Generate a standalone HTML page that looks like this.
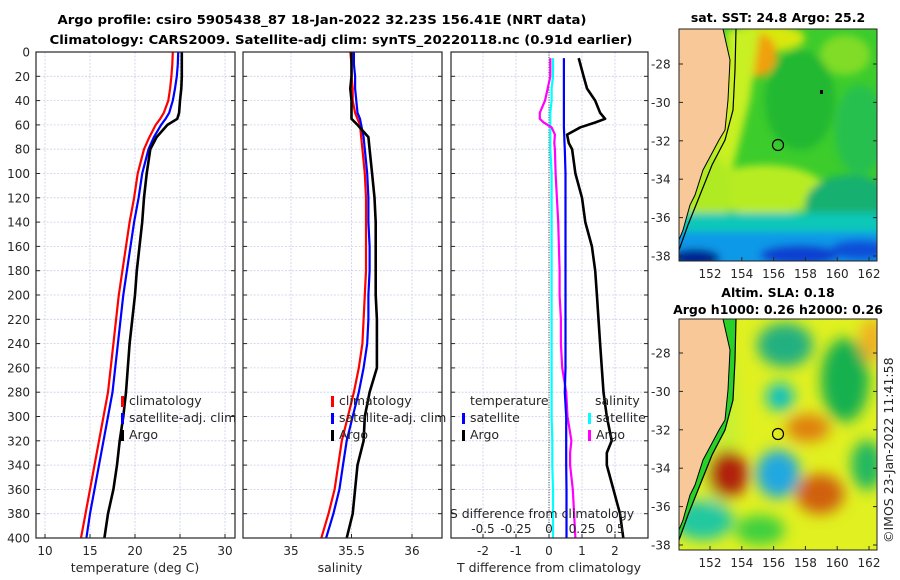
<!DOCTYPE html>
<html><head><meta charset="utf-8"><style>
body{margin:0;background:#fff;}
svg{display:block;font-family:"DejaVu Sans","Liberation Sans",sans-serif;}
</style></head><body>
<svg id="c" width="900" height="580" xmlns="http://www.w3.org/2000/svg">
<defs>
<filter id="bl" x="-20%" y="-20%" width="140%" height="140%"><feGaussianBlur stdDeviation="7"/></filter>
<filter id="bs" x="-20%" y="-20%" width="140%" height="140%"><feGaussianBlur stdDeviation="4"/></filter>
<clipPath id="m1"><rect x="679" y="29" width="198" height="232"/></clipPath>
<clipPath id="m2"><rect x="679" y="319" width="198" height="231"/></clipPath>
</defs>
<text x="322" y="24" text-anchor="middle" font-size="12.5" font-weight="bold" fill="#000" textLength="529" lengthAdjust="spacingAndGlyphs">Argo profile: csiro 5905438_87 18-Jan-2022 32.23S 156.41E (NRT data)</text>
<text x="341" y="44" text-anchor="middle" font-size="12.5" font-weight="bold" fill="#000" textLength="583" lengthAdjust="spacingAndGlyphs">Climatology: CARS2009. Satellite-adj clim: synTS_20220118.nc (0.91d earlier)</text>

<!-- top map -->
<g clip-path="url(#m1)">
<rect x="679" y="29" width="198" height="232" fill="#3ccc2c"/>
<g filter="url(#bs)">
<ellipse cx="765" cy="38" rx="40" ry="14" fill="#d8e810"/>
<ellipse cx="757" cy="55" rx="20" ry="22" fill="#f0a010"/>
<polygon points="728,29 760,29 750,100 735,160 715,215 690,240 685,200 715,140" fill="#c8f020"/>
<ellipse cx="765" cy="190" rx="60" ry="25" fill="#b8ec20"/>
<ellipse cx="710" cy="190" rx="22" ry="35" fill="#b0ea22"/>
<ellipse cx="845" cy="55" rx="25" ry="20" fill="#80dc28"/>
<ellipse cx="800" cy="100" rx="35" ry="50" fill="#20b830"/>
<ellipse cx="850" cy="205" rx="45" ry="30" fill="#18b070"/>
<ellipse cx="860" cy="130" rx="25" ry="45" fill="#28c050"/>
<rect x="670" y="213" width="220" height="30" fill="#10c8b8"/>
<rect x="670" y="232" width="220" height="40" fill="#1098e8"/>
<ellipse cx="800" cy="255" rx="40" ry="10" fill="#0a40d0"/>
<ellipse cx="695" cy="258" rx="25" ry="9" fill="#002090"/>
<ellipse cx="860" cy="250" rx="30" ry="10" fill="#1050d8"/>
</g>
<polygon points="679,29 723,29 730,60 728,100 725,130 719,140 711,155 703,170 695,195 690,205 683,230 679,240" fill="#f8c898"/>
<polyline points="736,29 735,70 733,110 725,140 712,165 700,195 688,225 679,250" fill="none" stroke="#000" stroke-width="1.2"/>
<polyline points="723,29 730,60 728,100 725,130 719,140 711,155 703,170 695,195 690,205 683,230 679,240" fill="none" stroke="#000" stroke-width="1"/>
<rect x="820" y="90" width="3" height="4" fill="#000"/>
<circle cx="778" cy="145" r="5.5" fill="none" stroke="#000" stroke-width="1.2"/>
</g>
<rect x="679" y="29" width="198" height="232" fill="none" stroke="#222" stroke-width="1"/>

<!-- bottom map -->
<g clip-path="url(#m2)">
<rect x="679" y="319" width="198" height="231" fill="#e0f020"/>
<g filter="url(#bl)">
<ellipse cx="718" cy="420" rx="22" ry="90" fill="#c8f030"/>
<ellipse cx="785" cy="345" rx="28" ry="22" fill="#20b080"/>
<ellipse cx="845" cy="380" rx="24" ry="42" fill="#18b050"/>
<ellipse cx="780" cy="397" rx="14" ry="14" fill="#10c0c0"/>
<ellipse cx="728" cy="474" rx="20" ry="24" fill="#b02010"/>
<ellipse cx="778" cy="474" rx="22" ry="24" fill="#20a8e0"/>
<ellipse cx="808" cy="428" rx="22" ry="14" fill="#e08010"/>
<ellipse cx="820" cy="494" rx="24" ry="20" fill="#d06010"/>
<ellipse cx="703" cy="520" rx="30" ry="20" fill="#20c8a0"/>
<ellipse cx="867" cy="465" rx="16" ry="25" fill="#20b860"/>
<ellipse cx="872" cy="340" rx="12" ry="22" fill="#f0b020"/>
<ellipse cx="760" cy="530" rx="25" ry="15" fill="#40d040"/>
</g>
<polygon points="679,319 723,319 730,350 728,390 725,420 719,430 711,445 703,460 695,485 690,495 683,520 679,530" fill="#f8c898"/>
<polygon points="723,319 736,319 735,360 733,400 725,430 712,455 700,485 688,515 679,540 679,530 683,520 690,495 695,485 703,460 711,445 719,430 725,420 728,390 730,350" fill="#28d028"/>
<polyline points="736,319 735,360 733,400 725,430 712,455 700,485 688,515 679,540" fill="none" stroke="#000" stroke-width="1.2"/>
<polyline points="723,319 730,350 728,390 725,420 719,430 711,445 703,460 695,485 690,495 683,520 679,530" fill="none" stroke="#000" stroke-width="1"/>
<circle cx="778" cy="434" r="5.5" fill="none" stroke="#000" stroke-width="1.2"/>
</g>
<rect x="679" y="319" width="198" height="231" fill="none" stroke="#222" stroke-width="1"/>

<text x="778" y="22" text-anchor="middle" font-size="12.5" font-weight="bold">sat. SST: 24.8 Argo: 25.2</text>
<text x="778" y="297" text-anchor="middle" font-size="12.5" font-weight="bold">Altim. SLA: 0.18</text>
<text x="778" y="314" text-anchor="middle" font-size="12.5" font-weight="bold">Argo h1000: 0.26 h2000: 0.26</text>
<text transform="translate(893,543) rotate(-90)" font-size="12.5" fill="#262626">©IMOS 23-Jan-2022 11:41:58</text>
<g id="plots"></g>
</svg>
<script>
// ===== data =====
const depths = [0,10,20,30,40,50,55,60,70,80,100,120,140,160,180,200,220,240,260,280,300,320,340,360,380,400];
const tempClim = [24.2,24.15,24.05,23.9,23.7,23.2,22.8,22.3,21.6,21.0,20.3,19.9,19.4,19.0,18.6,18.2,17.9,17.6,17.3,17.0,16.5,16.0,15.5,15.0,14.5,14.0];
const tempSat = [24.8,24.75,24.65,24.45,24.2,23.8,23.4,22.9,22.1,21.5,20.8,20.4,19.9,19.5,19.1,18.7,18.4,18.1,17.8,17.5,17.0,16.5,16.0,15.5,15.0,14.6];
const tempArgo = [25.2,25.2,25.2,25.15,25.0,24.9,24.7,23.6,22.4,21.7,21.3,21.0,20.8,20.5,20.2,20.0,19.7,19.4,19.2,19.0,18.7,18.3,18.0,17.6,17.0,16.6];
const salClim = [35.49,35.50,35.50,35.51,35.51,35.53,35.55,35.57,35.58,35.59,35.61,35.62,35.62,35.62,35.62,35.61,35.60,35.59,35.56,35.52,35.47,35.42,35.39,35.36,35.31,35.25];
const salSat = [35.52,35.52,35.53,35.53,35.54,35.55,35.57,35.58,35.60,35.61,35.63,35.64,35.64,35.65,35.65,35.64,35.64,35.63,35.60,35.56,35.51,35.46,35.43,35.40,35.35,35.29];
const salArgo = [35.50,35.50,35.50,35.49,35.50,35.50,35.50,35.55,35.64,35.65,35.67,35.69,35.70,35.70,35.70,35.70,35.71,35.71,35.71,35.65,35.61,35.60,35.55,35.53,35.51,35.46];
const diffDepths = [5,20,30,40,50,55,58,62,68,75,80,100,120,140,160,180,200,220,240,260,280,300,320,330,340,360,380,400];
const dTArgo = [0.9,1.05,1.15,1.4,1.55,1.7,1.4,0.95,0.55,0.6,0.7,0.8,1.0,1.1,1.3,1.4,1.45,1.5,1.55,1.6,1.65,1.75,1.9,1.75,1.75,1.95,2.15,2.25];
const dTSat = [0.45,0.45,0.45,0.45,0.45,0.45,0.45,0.45,0.46,0.47,0.48,0.5,0.5,0.5,0.5,0.5,0.5,0.5,0.5,0.5,0.48,0.52,0.52,0.52,0.52,0.53,0.53,0.53];
const dSSat = [0.03,0.03,0.02,0.02,0.01,0.01,0.01,0.01,0.01,0.01,0.01,0.02,0.02,0.02,0.02,0.02,0.02,0.02,0.02,0.02,0.02,0.02,0.025,0.025,0.025,0.03,0.03,0.03];
const dSArgo = [0.01,0.01,-0.01,-0.03,-0.07,-0.07,-0.04,0.02,0.045,0.04,0.045,0.05,0.06,0.07,0.075,0.08,0.08,0.09,0.09,0.1,0.13,0.14,0.17,0.16,0.16,0.18,0.19,0.2];
const depthTicks = [0,20,40,60,80,100,120,140,160,180,200,220,240,260,280,300,320,340,360,380,400];
const tTicks = [10,15,20,25,30];
const sTicks = [35,35.5,36];
const dTTicks = [-2,-1,0,1,2];
const dSTickLabels = ["-0.5","-0.25","0","0.25","0.5"];
const dSTicks = [-0.5,-0.25,0,0.25,0.5];

// ===== scales =====
const yTop=52, yBot=538;
const yS = d => yTop + d*(yBot-yTop)/400;
const P1={l:36,r:235}, P2={l:243,r:442}, P3={l:451,r:648};
const xT = t => 45 + (t-10)*9;
const xS = s => 291 + (s-35)*121;
const xDT = v => 549 + v*33;
const xDS = v => 549 + v*132;

const NS="http://www.w3.org/2000/svg";
const root=document.getElementById('plots');
function mk(tag,attrs,parent){const e=document.createElementNS(NS,tag);for(const k in attrs)e.setAttribute(k,attrs[k]);(parent||root).appendChild(e);return e;}
function txt(x,y,s,size,anchor,parent){const e=mk('text',{x:x,y:y,'font-size':size,'text-anchor':anchor||'middle',fill:'#262626'},parent);e.textContent=s;return e;}

function panel(P,name){
  const g=mk('g',{});
  
  
  mk('rect',{x:P.l,y:yTop,width:P.r-P.l,height:yBot-yTop,fill:'#fff'},g);
  depthTicks.forEach(d=>{
    mk('line',{x1:P.l,x2:P.r,y1:yS(d),y2:yS(d),stroke:'#c9cfe8','stroke-width':0.8,'stroke-dasharray':'2,1.5'},g);
    mk('line',{x1:P.l,x2:P.l+4,y1:yS(d),y2:yS(d),stroke:'#262626'},g);
    mk('line',{x1:P.r-4,x2:P.r,y1:yS(d),y2:yS(d),stroke:'#262626'},g);
  });
  return g;
}
function vgrid(g,ticks,fx){ticks.forEach(t=>{mk('line',{x1:fx(t),x2:fx(t),y1:yTop,y2:yBot,stroke:'#c9cfe8','stroke-width':0.8,'stroke-dasharray':'2,1.5'},g);});}
function line(g,ds,vs,fx,color,name,w){
  const pts=ds.map((d,i)=>fx(vs[i]).toFixed(1)+','+yS(d).toFixed(1)).join(' ');
  const p=mk('polyline',{points:pts,fill:'none',stroke:color,'stroke-width':w||2.2,'stroke-linejoin':'round'},g);
  
  
  return p;
}
function box(g,P){mk('rect',{x:P.l,y:yTop,width:P.r-P.l,height:yBot-yTop,fill:'none',stroke:'#262626','stroke-width':1.2},g);}
function legend(g,x,y,color,label){
  mk('rect',{x:x,y:y-9,width:3,height:11,fill:color},g);
  const t=txt(x+8,y,label,12.5,'start',g);
  
  
}

// panel 1
const g1=panel(P1,'temperature-panel');
vgrid(g1,tTicks,xT);
line(g1,depths,tempClim,xT,'#ff0000','temp-climatology-line');
line(g1,depths,tempSat,xT,'#0000ff','temp-satellite-line');
line(g1,depths,tempArgo,xT,'#000','temp-argo-line',2.6);
box(g1,P1);
depthTicks.forEach(d=>{txt(30,yS(d)+4.5,String(d),12,'end',g1);});
tTicks.forEach(t=>{mk('line',{x1:xT(t),x2:xT(t),y1:yBot-4,y2:yBot,stroke:'#262626'},g1);txt(xT(t),555,String(t),12,'middle',g1);});
txt(135,572,'temperature (deg C)',12.5,'middle',g1);
legend(g1,121,405,'#ff0000','climatology');
legend(g1,121,422,'#0000ff','satellite-adj. clim');
legend(g1,121,439,'#000','Argo');

// panel 2
const g2=panel(P2,'salinity-panel');
vgrid(g2,sTicks,xS);
line(g2,depths,salClim,xS,'#ff0000','sal-climatology-line');
line(g2,depths,salSat,xS,'#0000ff','sal-satellite-line');
line(g2,depths,salArgo,xS,'#000','sal-argo-line',2.6);
box(g2,P2);
sTicks.forEach(s=>{mk('line',{x1:xS(s),x2:xS(s),y1:yBot-4,y2:yBot,stroke:'#262626'},g2);txt(xS(s),555,String(s),12,'middle',g2);});
txt(340,572,'salinity',12.5,'middle',g2);
legend(g2,331,405,'#ff0000','climatology');
legend(g2,331,422,'#0000ff','satellite-adj. clim');
legend(g2,331,439,'#000','Argo');

// panel 3
const g3=panel(P3,'difference-panel');
vgrid(g3,dTTicks,xDT);
mk('line',{x1:xDT(0),x2:xDT(0),y1:yTop,y2:yBot,stroke:'#444','stroke-width':1,'stroke-dasharray':'1,1.5'},g3);
line(g3,diffDepths,dSSat,xDS,'#00ffff','sal-diff-satellite-line');
line(g3,diffDepths,dSArgo,xDS,'#ff00ff','sal-diff-argo-line');
line(g3,diffDepths,dTSat,xDT,'#0000ff','temp-diff-satellite-line');
line(g3,diffDepths,dTArgo,xDT,'#000','temp-diff-argo-line',2.6);
box(g3,P3);
dTTicks.forEach(t=>{mk('line',{x1:xDT(t),x2:xDT(t),y1:yBot-4,y2:yBot,stroke:'#262626'},g3);txt(xDT(t),555,String(t),12,'middle',g3);});
txt(549,572,'T difference from climatology',12.5,'middle',g3);
txt(542,518,'S difference from climatology',12.5,'middle',g3);
dSTicks.forEach((s,i)=>{txt(xDS(s),533,dSTickLabels[i],12,'middle',g3);});
txt(470,405,'temperature',12.5,'start',g3);
legend(g3,462,422,'#0000ff','satellite');
legend(g3,462,439,'#000','Argo');
txt(595,405,'salinity',12.5,'start',g3);
legend(g3,588,422,'#00ffff','satellite');
legend(g3,588,439,'#ff00ff','Argo');

// map axes
const svg=document.getElementById('c');
const lonTicks=[152,154,156,158,160,162];
const latTicks=[-28,-30,-32,-34,-36,-38];
const xLon=l=>710+(l-152)*15.9;
const yLat1=l=>64+(-28-l)*19.2;
function mapAxes(off,name){
  const g=mk('g',{},svg);
  
  
  latTicks.forEach(l=>{const y=yLat1(l)+off;mk('line',{x1:877,x2:873,y1:y,y2:y,stroke:'#262626'},g);mk('line',{x1:679,x2:683,y1:y,y2:y,stroke:'#262626'},g);txt(651,y+4.5,String(l),12,'start',g);});
  lonTicks.forEach(l=>{const x=xLon(l);const yb=(off?550:261);mk('line',{x1:x,x2:x,y1:yb,y2:yb-4,stroke:'#262626'},g);txt(x,yb+17,String(l),12,'middle',g);});
}
mapAxes(0,'sst-map-axes');
mapAxes(289,'sla-map-axes');
</script>
</body></html>
